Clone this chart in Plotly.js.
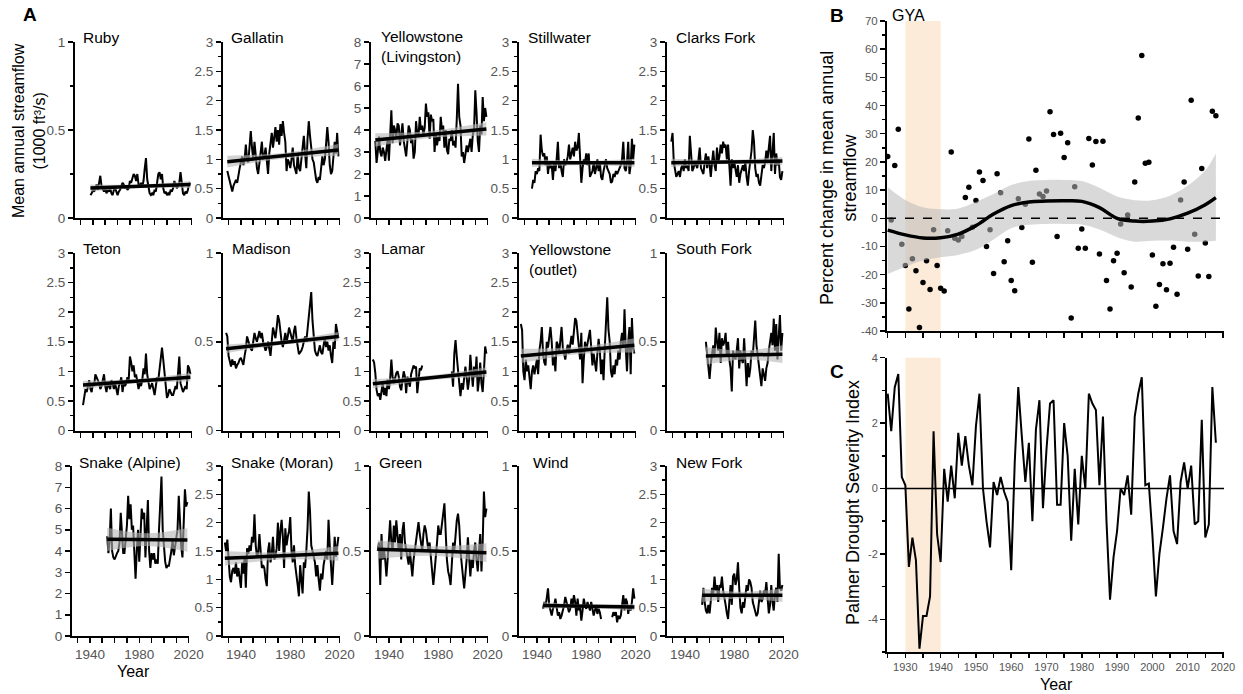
<!DOCTYPE html>
<html><head><meta charset="utf-8">
<script src="https://cdn.plot.ly/plotly-3.0.1.min.js"></script>
<style>html,body{margin:0;padding:0;background:#fff;}#chart{width:1243px;height:694px;}</style>
</head><body><div id="chart"></div>
<script>
// ---------------- DATA ----------------
const riverNames = ['Ruby','Gallatin','Yellowstone<br>(Livingston)','Stillwater','Clarks Fork',
  'Teton','Madison','Lamar','Yellowstone<br>(outlet)','South Fork',
  'Snake (Alpine)','Snake (Moran)','Green','Wind','New Fork'];
const riverStartYear = [1938,1929,1929,1936,1929, 1932,1928,1927,1927,1957, 1954,1927,1931,1945,1954];
const axisMax = [1,3,8,3,3, 3,1,3,3,1, 8,3,1,1,3];

const ruby = [0.13,0.14,0.16,0.15,0.17,0.19,0.16,0.21,0.24,0.18, 0.16,0.15,0.17,0.14,0.16,0.15,0.17,0.14,0.13,0.16,
  0.17,0.15,0.13,0.15,0.16,0.18,0.20,0.19,0.17,0.18, 0.16,0.17,0.21,0.20,0.22,0.25,0.24,0.21,0.25,0.19,
  0.18,0.20,0.18,0.21,0.28,0.34,0.22,0.17,0.14,0.13, 0.14,0.13,0.16,0.15,0.19,0.25,0.26,0.22,0.25,0.17,
  0.14,0.15,0.13,0.14,0.13,0.16,0.15,0.17,0.21,0.19, 0.17,0.18,0.20,0.26,0.18,0.14,0.13,0.15,0.14,0.16, 0.20,0.19];
const gallatin = [0.80,0.70,0.65,0.55,0.45,0.55,0.60,0.65,0.60,0.75, 0.85,0.95,1.05,0.90,1.00,1.25,1.00,0.95,1.30,1.48,
  1.20,1.00,1.30,1.05,0.85,0.75,0.95,1.15,1.30,1.00, 1.05,1.20,0.95,0.75,1.10,1.25,1.45,1.20,1.35,1.55,
  1.30,1.50,1.25,1.60,1.40,1.65,1.45,1.30,0.80,1.00, 0.95,0.85,1.00,1.20,0.90,0.80,0.75,1.10,0.85,0.80,
  1.00,1.15,1.40,1.10,0.85,1.35,1.65,1.40,1.20,1.00, 0.95,0.80,0.65,0.60,0.70,0.65,0.85,1.05,0.90,1.00,
  1.25,1.55,1.30,0.90,0.75,0.80,1.05,1.30,1.10,1.45, 1.05];
const yellowstoneLiv = [3.5,2.5,3.0,3.7,3.0,2.8,3.2,3.0,2.6,3.3, 3.6,2.6,3.8,4.9,3.4,4.2,4.0,3.6,4.3,4.2,
  3.3,3.8,4.3,3.5,3.0,2.8,3.5,4.2,4.0,3.4, 3.6,2.7,3.0,4.4,3.8,3.7,4.6,4.0,4.2,3.8,
  4.1,5.2,4.6,4.8,3.6,4.7,4.4,4.5,3.0,3.8, 3.3,3.7,3.5,4.6,4.0,4.2,3.2,4.0,3.1,2.9,
  3.6,3.5,4.0,3.3,3.5,3.2,4.5,6.1,4.6,4.2, 2.8,3.0,2.5,2.9,3.3,3.0,3.4,3.6,3.0,3.8,
  4.0,5.8,4.8,3.5,3.0,4.2,3.8,5.5,4.4,5.0, 4.6];
const stillwater = [0.50,0.65,0.60,0.80,0.75,0.85,0.80,1.42,1.15,1.05, 1.10,0.90,1.05,0.75,0.95,0.85,0.90,0.65,0.95,0.80,
  1.00,1.30,0.85,0.95,0.80,0.70,1.00,0.90,0.95,1.05, 1.25,1.00,1.10,1.20,1.05,1.30,1.15,1.20,1.45,1.10,
  0.60,0.85,1.00,0.95,1.10,0.90,1.10,0.70,0.75,0.80, 0.95,0.75,0.85,1.00,0.80,0.95,0.70,0.65,0.80,0.90,
  1.00,0.85,0.80,0.75,0.60,0.62,0.75,0.70,0.80,0.75, 0.80,0.85,0.90,1.00,1.30,0.85,0.80,0.95,1.30,0.75,
  0.90,1.35,1.00,1.25];
const clarksFork = [1.30,1.45,0.95,0.80,0.70,0.75,0.80,0.70,0.85,0.90, 0.80,1.00,0.85,0.90,0.80,1.40,1.05,0.80,0.85,0.95,
  0.90,0.85,1.00,1.20,0.85,0.80,0.75,0.95,1.10,0.85, 1.05,0.90,0.70,0.95,1.15,0.90,0.80,1.20,0.95,1.05,
  1.25,1.10,1.30,1.20,1.25,1.00,1.25,0.90,0.55,1.00, 0.85,0.95,0.80,0.70,0.90,0.60,0.75,0.85,0.90,0.80,
  0.95,0.70,0.55,0.80,0.95,1.15,1.50,1.30,0.85,0.70, 0.75,0.60,0.55,0.80,0.90,0.85,0.95,1.15,1.00,1.20,
  1.40,0.80,1.15,1.45,0.75,1.10,0.90,1.00,0.70,0.65, 0.80];
const teton = [0.43,0.55,0.70,0.65,0.75,0.85,0.70,0.65,0.80,0.75, 0.95,0.90,0.85,0.80,0.70,0.75,0.85,0.95,0.75,0.65,
  0.80,0.75,0.70,0.85,0.80,0.70,0.80,0.70,0.60,0.75, 0.80,0.90,0.65,0.80,0.75,0.80,0.90,0.85,1.25,1.15,
  1.00,1.10,0.90,0.95,0.85,0.70,0.80,0.75,0.85,1.05, 0.95,1.30,0.95,0.80,0.70,0.75,0.80,0.70,0.60,0.75,
  0.90,0.85,1.05,1.15,1.40,1.20,1.00,0.75,0.55,0.60, 0.70,0.65,0.60,0.60,0.70,0.75,0.70,0.95,1.25,0.80,
  0.70,0.65,0.70,0.75,0.70,1.10,1.05,0.95];
const madison = [0.55,0.53,0.42,0.38,0.36,0.40,0.37,0.39,0.35,0.37, 0.38,0.40,0.41,0.39,0.37,0.42,0.46,0.53,0.50,0.48,
  0.46,0.45,0.50,0.55,0.52,0.50,0.53,0.56,0.52,0.55, 0.50,0.48,0.45,0.47,0.50,0.46,0.42,0.50,0.58,0.55,
  0.52,0.58,0.65,0.62,0.55,0.50,0.47,0.52,0.55,0.50, 0.53,0.58,0.55,0.52,0.50,0.56,0.59,0.52,0.46,0.43,
  0.44,0.45,0.47,0.50,0.53,0.50,0.58,0.65,0.70,0.78, 0.62,0.52,0.45,0.43,0.42,0.45,0.48,0.44,0.43,0.48,
  0.52,0.47,0.50,0.45,0.48,0.42,0.38,0.50,0.46,0.60, 0.55,0.52];
const lamar = [1.20,1.15,0.97,0.69,0.58,0.63,0.52,0.69,0.80,0.60, 0.72,0.58,0.86,0.70,0.86,1.20,0.91,0.80,0.91,0.97,
  1.00,0.91,0.74,0.68,0.85,1.00,0.91,0.63,0.91,0.80, 0.74,0.95,1.03,1.10,1.05,1.08,0.63,0.90,1.05,1.02, 1.10,
  null,null,null,null,null,null,null,null,null,null, null,null,null,null,null,null,null,null,null,null, null,null,null,
  1.00,0.74,1.30,1.53,1.25,0.97,0.80,0.58,0.80,0.69, 0.86,1.08,0.90,0.69,0.85,1.28,1.00,0.74,1.08,0.90,
  1.25,0.66,0.85,1.15,0.80,0.65,1.00,1.42,1.30];
const yellowstoneOut = [1.80,1.70,1.00,0.85,1.20,1.00,1.10,0.90,0.70,1.00, 1.10,0.95,1.05,1.20,0.95,1.35,1.50,1.75,1.30,1.15,
  1.10,1.50,1.40,1.60,1.75,1.50,1.10,1.25,1.00,1.50, 1.45,1.30,1.55,1.75,1.40,1.30,1.20,1.35,1.45,1.30,
  1.50,1.60,1.45,1.70,1.90,1.85,1.60,1.50,1.20,1.65, 0.80,1.20,1.50,1.35,1.45,1.55,1.70,1.40,1.10,1.30,
  1.15,1.00,1.30,1.55,1.35,0.95,1.20,0.85,1.40,1.80, 2.25,1.70,1.50,1.00,0.90,1.10,0.95,1.20,1.10,1.35,
  1.20,1.50,1.65,1.40,2.05,1.40,1.00,1.50,1.75,0.95, 1.90,1.40,1.30];
const southFork = [0.50,0.42,0.35,0.29,0.38,0.45,0.48,0.42,0.58,0.50, 0.45,0.55,0.38,0.52,0.48,0.50,0.55,0.42,0.50,0.40,
  0.35,0.22,0.45,0.42,0.40,0.45,0.52,0.35,0.45,0.40, 0.38,0.52,0.40,0.25,0.38,0.30,0.35,0.45,0.42,0.50,
  0.62,0.48,0.42,0.35,0.32,0.25,0.35,0.30,0.28,0.35, 0.38,0.45,0.50,0.55,0.48,0.63,0.45,0.60,0.40,0.50,
  0.65,0.45,0.55];
const snakeAlpine = [4.7,3.9,4.5,6.0,4.0,3.7,3.6,3.8,3.9,4.0, 4.4,5.8,4.5,3.9,3.9,4.6,5.2,6.6,5.5,6.2,
  5.0,5.2,4.0,2.7,4.0,5.0,3.5,4.8,6.0,5.5, 5.8,3.7,5.0,6.4,4.0,3.2,3.9,3.6,3.9,3.4,
  3.6,3.4,5.0,6.0,7.5,5.0,4.0,3.5,3.2,3.3, 3.3,3.6,4.0,4.5,3.8,4.2,4.6,5.0,6.6,5.0,
  4.2,3.7,5.2,6.9,6.1,6.3];
const snakeMoran = [1.65,1.50,1.70,1.30,1.05,0.95,1.15,1.20,1.10,1.30, 1.05,1.20,1.00,0.85,1.30,1.10,1.40,0.85,1.55,1.45,
  1.60,1.50,1.75,1.65,2.15,1.60,1.40,1.45,1.80,1.45, 1.20,1.25,1.20,1.00,0.88,1.50,1.65,1.30,1.45,1.75,
  1.35,1.40,1.55,2.00,1.50,1.85,2.05,1.75,1.20,1.90, 1.60,1.75,1.85,2.10,1.50,1.30,1.60,1.25,1.00,0.90,
  0.70,1.25,1.00,0.75,1.30,1.20,1.50,1.90,2.55,2.20, 1.60,1.50,1.40,1.30,1.05,1.25,1.00,0.80,1.10,1.00,
  1.25,1.40,1.50,1.35,2.05,1.60,1.10,0.90,1.30,1.75, 1.40,1.55,1.75];
const green = [0.50,0.55,0.30,0.60,0.45,0.50,0.45,0.35,0.45,0.55, 0.68,0.55,0.50,0.65,0.55,0.68,0.60,0.50,0.60,0.45,
  0.62,0.67,0.55,0.50,0.45,0.42,0.50,0.40,0.35,0.45, 0.50,0.55,0.60,0.67,0.60,0.55,0.50,0.60,0.65,0.62,
  0.55,0.50,0.55,0.45,0.38,0.30,0.38,0.50,0.55,0.65, 0.60,
  0.60,0.65,0.72,0.78,0.55,0.45,0.38,0.35,0.30,0.45, 0.55,0.50,0.60,0.68,0.72,0.65,0.50,0.40,0.35,0.28,
  0.35,0.45,0.58,0.45,0.35,0.45,0.40,0.50,0.55,0.45, 0.38,0.50,0.60,0.38,0.55,0.85,0.70,0.75];
const wind = [0.16,0.20,0.17,0.22,0.28,0.18,0.15,0.12,0.16,0.18, 0.22,0.15,0.12,0.14,0.10,0.12,0.15,0.18,0.23,0.20,
  0.18,0.14,0.16,0.22,0.18,0.24,0.20,0.12,0.22,0.15, 0.17,0.09,0.15,0.22,0.18,0.16,0.20,0.18,0.15,0.20,
  0.15,0.12,0.15,0.18,0.13,0.16,0.14,0.10,null,null, null,null,null,null,null,null,0.11,0.14,0.12,0.14,
  0.08,0.12,0.10,0.12,0.18,0.24,0.15,0.22,0.20,0.13, 0.18,0.15,0.20,0.28,0.22];
const newFork = [0.55,0.85,0.60,0.45,0.40,0.55,0.40,0.70,0.85,0.75, 1.05,0.80,0.90,0.60,0.90,0.85,1.05,0.80,0.70,0.55,
  0.40,0.30,0.60,0.90,0.55,1.05,1.10,0.90,1.00,1.30, 0.85,0.50,0.40,0.60,0.50,0.70,0.90,0.80,1.00,0.95,
  0.85,0.60,0.50,0.40,0.35,0.40,0.60,0.80,0.60,0.65, 0.80,0.75,0.95,0.70,0.40,0.55,0.90,0.60,0.45,0.75,
  0.85,0.60,1.45,0.85,0.80,0.90];
const flowSeries = [ruby,gallatin,yellowstoneLiv,stillwater,clarksFork,teton,madison,lamar,yellowstoneOut,southFork,
  snakeAlpine,snakeMoran,green,wind,newFork];

// linear trend (start / end value) and confidence half-width (ends / middle)
const trendStart = [0.17,0.96,3.55,0.94,0.94, 0.77,0.46,0.79,1.26,0.42, 4.55,1.37,0.51,0.18,0.72];
const trendEnd   = [0.19,1.16,4.05,0.94,0.97, 0.90,0.53,0.99,1.44,0.43, 4.52,1.46,0.49,0.17,0.72];
const bandHalfEnd = [0.02,0.10,0.30,0.07,0.07, 0.07,0.025,0.08,0.12,0.05, 0.55,0.13,0.055,0.02,0.12];
const bandHalfMid = [0.01,0.05,0.16,0.035,0.035, 0.035,0.012,0.04,0.06,0.025, 0.30,0.065,0.028,0.01,0.06];

const decadeTicks = [1930,1940,1950,1960,1970,1980,1990,2000,2010,2020];
const decadeLabels = ['','1940','','','','1980','','','','2020'];

// Panel B: GYA percent change, 1925-2018
const gyaStartYear = 1925;
const gyaChange = [21.9,-0.6,18.7,31.6,-9.2,-16.8,-32.2,-14.4,-18.6,-38.8,
  -22.8,-15.1,-25.3,-4.1,-16.8,-24.8,-25.8,-4.4,23.5,-7.1,
  -7.7,-6.5,7.4,11.0,-3.2,6.3,16.4,13.4,-10.0,-4.1,
  -19.6,15.8,9.1,-15.4,-8.0,-22.1,-25.7,6.9,-3.3,5.0,
  28.1,-15.6,17.0,8.6,7.7,9.7,37.8,29.7,-6.5,30.2,
  21.6,26.8,-35.4,11.2,-10.6,-3.8,-10.6,28.3,18.9,27.2,
  -12.7,27.3,-22.1,-32.2,-15.1,-12.4,-2.0,-19.3,1.2,-24.4,
  12.9,35.6,57.8,19.5,19.9,-13.0,-31.2,-23.5,-16.1,-25.4,
  -16.0,-10.3,-27.0,6.5,12.9,-11.0,41.9,-5.7,-20.5,17.7,
  -8.8,-20.7,38.0,36.4];
const smoothYears = [1925,1930,1935,1940,1945,1950,1955,1960,1965,1970,1975,1980,1985,1990,1995,2000,2005,2010,2015,2018];
const smoothFit   = [-4.2,-5.9,-7.0,-6.9,-5.6,-2.6,1.5,4.5,5.8,6.1,6.2,6.0,3.8,0.0,-1.0,-1.0,-0.2,1.8,4.8,7.3];
const smoothUpper = [11.0,6.5,3.9,3.2,3.5,5.8,8.6,11.8,13.2,13.6,13.6,13.2,10.8,7.7,6.4,6.4,8.0,11.5,17.0,23.0];
const smoothLower = [-19.8,-17.2,-15.0,-13.8,-13.0,-11.2,-7.5,-3.5,-2.3,-2.0,-2.0,-2.2,-4.0,-6.7,-8.3,-8.0,-7.9,-8.3,-8.3,-8.0];
const droughtYears = [1930,1940];

// Panel C: PDSI 1925-2018
const pdsiStartYear = 1925;
const pdsi = [2.9,1.75,3.1,3.5,0.35,0.1,-2.4,-1.5,-2.2,-4.9,
  -3.9,-3.9,-3.3,1.75,-1.4,-2.25,0.6,-0.4,0.7,-0.3,
  1.7,0.7,1.6,0.7,0.1,1.9,2.9,0.0,-1.0,-1.8,
  0.2,-0.2,0.35,-0.1,-0.4,-2.5,0.8,3.1,1.6,0.2,
  1.4,-1.0,1.8,2.7,-0.6,1.2,2.6,2.7,-0.5,-0.5,
  2.0,1.0,-1.6,0.6,-1.1,1.0,0.0,2.9,2.6,2.4,
  0.1,2.2,-1.0,-3.4,-2.1,-1.3,0.0,-0.2,0.4,-0.8,
  2.2,2.9,3.4,0.1,0.15,-1.4,-3.3,-2.0,-1.2,-0.3,
  0.4,-1.3,-1.7,0.2,0.8,0.0,0.7,-1.1,-1.0,2.1,
  -1.5,-1.1,3.1,1.4];
const bTickVals = [-40,-30,-20,-10,0,10,20,30,40,50,60,70];
const bTickText = ['-40','-30','-20','-10','0','10','20','30','40','50','60','70'];
const cTickVals = [-4,-2,0,2,4];
const cTickText = ['-4','-2','0','2','4'];
const cYearTicks = [1925,1930,1935,1940,1945,1950,1955,1960,1965,1970,1975,1980,1985,1990,1995,2000,2005,2010,2015,2020];
const cYearText = ['','1930','','1940','','1950','','1960','','1970','','1980','','1990','','2000','','2010','','2020'];

// ---------------- LAYOUT GEOMETRY (pixels) ----------------
const W = 1243, H = 694;
const panelLeft = [75,223,371,519,667, 75,223,371,519,667, 72,223,371,519,667];
const panelW = 117;
const rowTop = [42,253,466], rowBottom = [218,430.5,636];
const nameY = [37,249,462], nameY2 = [47,259.5,462];
const nameX = [81,229,379,526,674, 81,230,379,527,674, 77,229,377,531,674];
const FONT = 'Liberation Sans, Arial, Helvetica, sans-serif';
const px = v => v / W, py = v => 1 - v / H;

const layout = {width:W, height:H, margin:{l:0,r:0,t:0,b:0}, paper_bgcolor:'#fff', plot_bgcolor:'rgba(0,0,0,0)',
  showlegend:false, font:{family:FONT, color:'#000'}, annotations:[], shapes:[]};
const traces = [];
const axName = (p, n) => p + (n === 1 ? '' : n);

flowSeries.forEach((vals, i) => {
  const n = i + 1, row = Math.floor(i / 5);
  const l = panelLeft[i];
  const max = axisMax[i];
  layout[axName('xaxis', n)] = {domain:[px(l), px(l + panelW)], range:[1925.5, 2020.3], anchor:axName('y', n),
    showline:true, linewidth:2, linecolor:'#000', ticks:'outside', ticklen:5, tickwidth:1.5, tickcolor:'#000',
    tickmode:'array', tickvals:decadeTicks, ticktext: row === 2 ? decadeLabels : decadeTicks.map(() => ''),
    showgrid:false, zeroline:false, tickfont:{size:13.5, color:'#555', family:FONT}};
  const ya = {domain:[py(rowBottom[row]), py(rowTop[row])], range:[0, max], anchor:axName('x', n),
    showline:true, linewidth:2, linecolor:'#000', ticks:'outside', ticklen:5, tickwidth:1.5, tickcolor:'#000',
    tickmode:'linear', tick0:0, dtick: max === 8 ? 1 : 0.5, showgrid:false, zeroline:false,
    tickfont:{size:13.5, color:'#555', family:FONT}};
  if (max !== 8) ya.minor = {tickmode:'linear', tick0:0, dtick:0.25, ticks:'outside', ticklen:3, tickwidth:1.5, tickcolor:'#000', showgrid:false};
  layout[axName('yaxis', n)] = ya;
  const xr = axName('x', n), yr = axName('y', n);
  const s = riverStartYear[i], e = s + vals.length - 1, m = (s + e) / 2;
  const ts = trendStart[i], te = trendEnd[i], tm = (ts + te) / 2;
  traces.push({x: vals.map((_, k) => s + k), y: vals, xaxis:xr, yaxis:yr, mode:'lines',
    line:{color:'#000', width:2}, connectgaps:false, hoverinfo:'skip'});
  traces.push({x:[s, m, e], y:[ts - bandHalfEnd[i], tm - bandHalfMid[i], te - bandHalfEnd[i]], xaxis:xr, yaxis:yr,
    mode:'lines', line:{width:0, shape:'spline', color:'rgba(0,0,0,0)'}, hoverinfo:'skip'});
  traces.push({x:[s, m, e], y:[ts + bandHalfEnd[i], tm + bandHalfMid[i], te + bandHalfEnd[i]], xaxis:xr, yaxis:yr,
    mode:'lines', line:{width:0, shape:'spline', color:'rgba(0,0,0,0)'}, fill:'tonexty', fillcolor:'rgba(180,180,180,0.6)', hoverinfo:'skip'});
  traces.push({x:[s, e], y:[ts, te], xaxis:xr, yaxis:yr, mode:'lines', line:{color:'#000', width:3.5}, hoverinfo:'skip'});
  const two = riverNames[i].indexOf('<br>') >= 0;
  layout.annotations.push({xref:'paper', yref:'paper', x:px(nameX[i]), y:py(two ? nameY2[row] : nameY[row]),
    xanchor:'left', yanchor:'middle', align:'left', text:riverNames[i], showarrow:false,
    font:{size:15.5, color:'#000', family:FONT}});
});

// Panel B
layout.xaxis16 = {domain:[px(887), px(1224)], range:[1924.8, 2020.3], anchor:'y16', showline:true, linewidth:2, linecolor:'#000',
  ticks:'outside', ticklen:5, tickwidth:1.5, tickcolor:'#000', tickmode:'linear', tick0:1925, dtick:5, showticklabels:false,
  showgrid:false, zeroline:false};
layout.yaxis16 = {domain:[py(331), py(21)], range:[-40, 70], anchor:'x16', showline:true, linewidth:2, linecolor:'#000',
  ticks:'outside', ticklen:5, tickwidth:1.5, tickcolor:'#000', tickmode:'array', tickvals:bTickVals, ticktext:bTickText,
  minor:{tickmode:'linear', tick0:0, dtick:5, ticks:'outside', ticklen:3, tickwidth:1.5, tickcolor:'#000'},
  showgrid:false, zeroline:false, tickfont:{size:11.5, color:'#555', family:FONT}};
layout.shapes.push({type:'rect', xref:'x16', yref:'y16 domain', x0:droughtYears[0], x1:droughtYears[1], y0:0, y1:1,
  fillcolor:'#fcebd8', line:{width:0}, layer:'below'});
layout.shapes.push({type:'line', xref:'x16 domain', yref:'y16', x0:0, x1:1, y0:0, y1:0, line:{color:'#000', width:1.5, dash:'dash'}});
traces.push({x: gyaChange.map((_, k) => gyaStartYear + k), y: gyaChange, xaxis:'x16', yaxis:'y16', mode:'markers',
  marker:{color:'#000', size:5.5}, hoverinfo:'skip'});
traces.push({x: smoothYears, y: smoothLower, xaxis:'x16', yaxis:'y16', mode:'lines', line:{width:0, shape:'spline', color:'rgba(0,0,0,0)'}, hoverinfo:'skip'});
traces.push({x: smoothYears, y: smoothUpper, xaxis:'x16', yaxis:'y16', mode:'lines', line:{width:0, shape:'spline', color:'rgba(0,0,0,0)'},
  fill:'tonexty', fillcolor:'rgba(185,185,185,0.55)', hoverinfo:'skip'});
traces.push({x: smoothYears, y: smoothFit, xaxis:'x16', yaxis:'y16', mode:'lines', line:{color:'#000', width:3.5, shape:'spline'}, hoverinfo:'skip'});

// Panel C
layout.xaxis17 = {domain:[px(887), px(1224)], range:[1924.8, 2020.3], anchor:'y17', showline:true, linewidth:2, linecolor:'#000',
  ticks:'outside', ticklen:4, tickwidth:1.5, tickcolor:'#000', tickmode:'array', tickvals:cYearTicks, ticktext:cYearText,
  showgrid:false, zeroline:false, tickfont:{size:11, color:'#555', family:FONT}};
layout.yaxis17 = {domain:[py(652), py(357.7)], range:[-5, 4], anchor:'x17', showline:true, linewidth:2, linecolor:'#000',
  ticks:'outside', ticklen:5, tickwidth:1.5, tickcolor:'#000', tickmode:'array', tickvals:cTickVals, ticktext:cTickText,
  minor:{tickmode:'linear', tick0:0, dtick:1, ticks:'outside', ticklen:3, tickwidth:1.5, tickcolor:'#000'},
  showgrid:false, zeroline:false, tickfont:{size:11, color:'#555', family:FONT}};
layout.shapes.push({type:'rect', xref:'x17', yref:'y17 domain', x0:droughtYears[0], x1:droughtYears[1], y0:0, y1:1,
  fillcolor:'#fcebd8', line:{width:0}, layer:'below'});
layout.shapes.push({type:'line', xref:'x17 domain', yref:'y17', x0:0, x1:1, y0:0, y1:0, line:{color:'#000', width:1.5}, layer:'below'});
traces.push({x: pdsi.map((_, k) => pdsiStartYear + k), y: pdsi, xaxis:'x17', yaxis:'y17', mode:'lines',
  line:{color:'#000', width:2}, hoverinfo:'skip'});

// Text labels
const ann = (text, x, y, size, extra) => layout.annotations.push(Object.assign({xref:'paper', yref:'paper', x:px(x), y:py(y),
  xanchor:'center', yanchor:'middle', text:text, showarrow:false, font:{size:size, color:'#000', family:FONT}}, extra || {}));
ann('<b>A</b>', 30, 14, 19);
ann('<b>B</b>', 837, 15, 19);
ann('<b>C</b>', 837, 371, 19);
ann('GYA', 890, 16, 16, {xanchor:'left'});
ann('Mean annual streamflow<br>(1000 ft³/s)', 29, 131, 16, {textangle:-90});
ann('Percent change in mean annual<br>streamflow', 838, 178, 18, {textangle:-90});
ann('Palmer Drought Severity Index', 853, 503, 18, {textangle:-90});
ann('Year', 133, 671, 16);
ann('Year', 1056, 684, 16);

Plotly.newPlot('chart', traces, layout, {staticPlot:true, displayModeBar:false});
</script></body></html>
